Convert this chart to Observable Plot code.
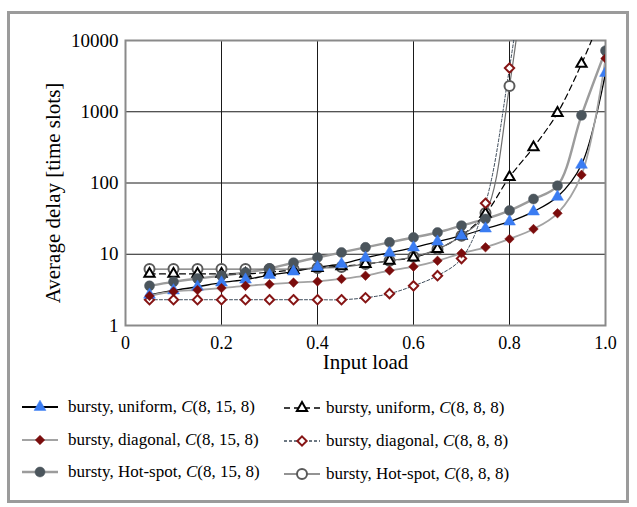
<!DOCTYPE html>
<html>
<head>
<meta charset="utf-8">
<script src="https://cdn.jsdelivr.net/npm/d3@7"></script>
<script src="https://cdn.jsdelivr.net/npm/@observablehq/plot@0.6"></script>
<style>
  html, body { margin: 0; padding: 0; background: #fff; }
  body { font-family: "Liberation Serif", "Times New Roman", serif; color: #000; }
  #wrap { position: relative; width: 637px; height: 507px; overflow: hidden; }
  #chart { position: absolute; left: 0; top: 0; }
  #frame { position: absolute; left: 7px; top: 11px; width: 622px; height: 492px;
           border: 3px solid #9b9b9b; box-sizing: border-box; pointer-events: none; }
  .leg { position: absolute; display: flex; align-items: center; font-size: 17px; white-space: nowrap; }
  .leg svg { display: block; }
</style>
</head>
<body>
<div id="wrap">
  <div id="chart"></div>
  <div id="legend"></div>
  <div id="frame"></div>
</div>
<script>
// ---------- data ----------
const load = [0.05, 0.1, 0.15, 0.2, 0.25, 0.3, 0.35, 0.4, 0.45, 0.5,
              0.55, 0.6, 0.65, 0.7, 0.75, 0.8, 0.85, 0.9, 0.95, 1.0];

// bursty, uniform, C(8,15,8)
const uniform15 = [2.7, 3.1, 3.5, 4.0, 4.4, 5.1, 5.7, 6.6, 7.3, 8.9,
                   10.5, 12.4, 15, 18.2, 22.9, 28.7, 39.7, 64, 180, 3500];
// bursty, diagonal, C(8,15,8)
const diagonal15 = [2.6, 3.0, 3.15, 3.35, 3.6, 3.8, 4.0, 4.15, 4.5, 5.0,
                    5.9, 6.7, 8.1, 10.3, 12.5, 16.4, 22.6, 37.6, 130, 5600];
// bursty, Hot-spot, C(8,15,8)
const hotspot15 = [3.6, 4.1, 4.55, 5.0, 5.55, 6.3, 7.6, 9.0, 10.6, 12.5,
                   14.7, 17.2, 20.2, 25.2, 31.3, 41, 59.6, 91.5, 890, 7200];
// bursty, uniform, C(8,8,8)  (last value above the top of the chart, estimated)
const uniform8 = [5.3, 5.3, 5.3, 5.3, 5.3, 5.6, 6.0, 6.4, 6.8, 7.3,
                  8.1, 9.0, 11.8, 18.2, 37, 121, 317, 960, 4700, 30000];
// bursty, diagonal, C(8,8,8)  (0.85 value above the top, estimated)
const diagonal8 = [2.3, 2.3, 2.3, 2.3, 2.3, 2.3, 2.3, 2.3, 2.3, 2.45,
                   2.8, 3.6, 5.0, 8.7, 52, 4100, 1e6, null, null, null];
// bursty, Hot-spot, C(8,8,8)  (0.85 value above the top, estimated)
const hotspot8 = [6.2, 6.2, 6.2, 6.2, 6.2, 6.2, 6.2, 6.4, 6.6, 7.3,
                  8.1, 9.2, 11.8, 18.2, 38, 2300, 1e6, null, null, null];

const xTicks = [0, 0.2, 0.4, 0.6, 0.8, 1.0];
const xTickLabels = ["0", "0.2", "0.4", "0.6", "0.8", "1.0"];
const yTicks = [1, 10, 100, 1000, 10000];
const yTickLabels = ["1", "10", "100", "1000", "10000"];

const xTitle = "Input load";
const yTitle = "Average delay [time slots]";

// ---------- series styles ----------
const series = [
  {name: "bursty, uniform, ", conf: "(8, 15, 8)", values: uniform15,
   line: {stroke: "#000", strokeWidth: 1.3},
   dot: {symbol: "triangle", r: 4.4, fill: "#3a7cf2", stroke: "#3a7cf2", strokeWidth: 0.5}},
  {name: "bursty, diagonal, ", conf: "(8, 15, 8)", values: diagonal15,
   line: {stroke: "#a3a3a3", strokeWidth: 1.8},
   dot: {symbol: "diamond2", r: 4.3, fill: "#7a0c0c", stroke: "#7a0c0c", strokeWidth: 0.5}},
  {name: "bursty, Hot-spot, ", conf: "(8, 15, 8)", values: hotspot15,
   line: {stroke: "#9c9c9c", strokeWidth: 2.4},
   dot: {symbol: "circle", r: 5, fill: "#4b555c", stroke: "#4b555c", strokeWidth: 0.5}},
  {name: "bursty, uniform, ", conf: "(8, 8, 8)", values: uniform8,
   line: {stroke: "#000", strokeWidth: 1.2, strokeDasharray: "6,4"},
   dot: {symbol: "triangle", r: 3.8, fill: "#fff", stroke: "#000", strokeWidth: 2}},
  {name: "bursty, diagonal, ", conf: "(8, 8, 8)", values: diagonal8,
   line: {stroke: "#3d4b5a", strokeWidth: 1, strokeDasharray: "3,2"},
   dot: {symbol: "diamond2", r: 4.2, fill: "#fff", stroke: "#861515", strokeWidth: 2}},
  {name: "bursty, Hot-spot, ", conf: "(8, 8, 8)", values: hotspot8,
   line: {stroke: "#6f6f6f", strokeWidth: 1.2},
   dot: {symbol: "circle", r: 5, fill: "#fff", stroke: "#5a5a5a", strokeWidth: 2}}
];

const rows = s => load.map((x, i) => ({x, y: s.values[i]})).filter(d => d.y != null);

// line marks
const lineMarks = series.map(s =>
  Plot.line(rows(s), {x: "x", y: "y", curve: "catmull-rom", clip: true, ...s.line}));

// draw order for markers (bottom -> top)
const dotOrder = [5, 3, 4, 2, 0, 1];
const dotMarks = dotOrder.map(k => {
  const s = series[k];
  return Plot.dot(rows(s).filter(d => d.y <= 10000), {x: "x", y: "y", clip: true, ...s.dot});
});

const chart = Plot.plot({
  width: 637,
  height: 385,
  marginLeft: 125,
  marginRight: 32,
  marginTop: 40,
  marginBottom: 60,
  style: {fontFamily: "'Liberation Serif', 'Times New Roman', serif", background: "transparent", color: "#000"},
  x: {domain: [0, 1]},
  y: {type: "log", domain: [1, 10000]},
  marks: [
    Plot.gridX([0.2, 0.4, 0.6, 0.8], {stroke: "#1a1a1a", strokeOpacity: 1, strokeWidth: 1}),
    Plot.gridY([10, 100, 1000], {stroke: "#1a1a1a", strokeOpacity: 1, strokeWidth: 1}),
    Plot.frame({stroke: "#8a8a8a", strokeWidth: 2}),
    Plot.axisX({ticks: xTicks, tickSize: 0, tickPadding: 11, fontSize: 18,
      tickFormat: d => xTickLabels[xTicks.findIndex(t => Math.abs(t - d) < 1e-9)], label: null}),
    Plot.axisY({ticks: yTicks, tickSize: 0, tickPadding: 7, fontSize: 19,
      tickFormat: d => yTickLabels[yTicks.findIndex(t => Math.abs(t - d) < 1e-6)], label: null}),
    Plot.text([xTitle], {frameAnchor: "bottom", dy: 37, fontSize: 21, lineAnchor: "middle", textAnchor: "middle"}),
    Plot.text([yTitle], {frameAnchor: "left", dx: -72, dy: 10, rotate: -90, fontSize: 21,
      lineAnchor: "middle", textAnchor: "middle"}),
    ...lineMarks,
    ...dotMarks
  ]
});
document.getElementById("chart").appendChild(chart);

// ---------- legend ----------
const legend = document.getElementById("legend");
const legendPos = [
  {left: 22, top: 407}, {left: 22, top: 440}, {left: 22, top: 472},
  {left: 284, top: 408}, {left: 284, top: 441}, {left: 284, top: 474}
];
const symPath = (sym, r) => {
  const area = Math.PI * r * r;
  const map = {triangle: d3.symbolTriangle, diamond2: d3.symbolDiamond2, circle: d3.symbolCircle};
  return d3.symbol(map[sym], area)();
};
series.forEach((s, i) => {
  const p = legendPos[i];
  const div = document.createElement("div");
  div.className = "leg";
  div.style.left = p.left + "px";
  div.style.top = (p.top - 12) + "px";
  div.style.height = "24px";
  const w = 36;
  const dash = s.line.strokeDasharray ? `stroke-dasharray="${s.line.strokeDasharray}"` : "";
  const lw = i >= 3 ? 1.6 : Math.max(2, s.line.strokeWidth);
  div.innerHTML =
    `<svg width="${w}" height="24" viewBox="0 0 ${w} 24">
       <line x1="0" x2="${w}" y1="12" y2="12" stroke="${s.line.stroke}" stroke-width="${lw}" ${dash}/>
       <path d="${symPath(s.dot.symbol, s.dot.r)}" transform="translate(${w / 2},12)"
             fill="${s.dot.fill}" stroke="${s.dot.stroke}" stroke-width="${s.dot.strokeWidth}"/>
     </svg>
     <span style="margin-left:${i >= 3 ? 6 : 10}px">${s.name}<i>C</i>${s.conf}</span>`;
  legend.appendChild(div);
});
</script>
</body>
</html>
